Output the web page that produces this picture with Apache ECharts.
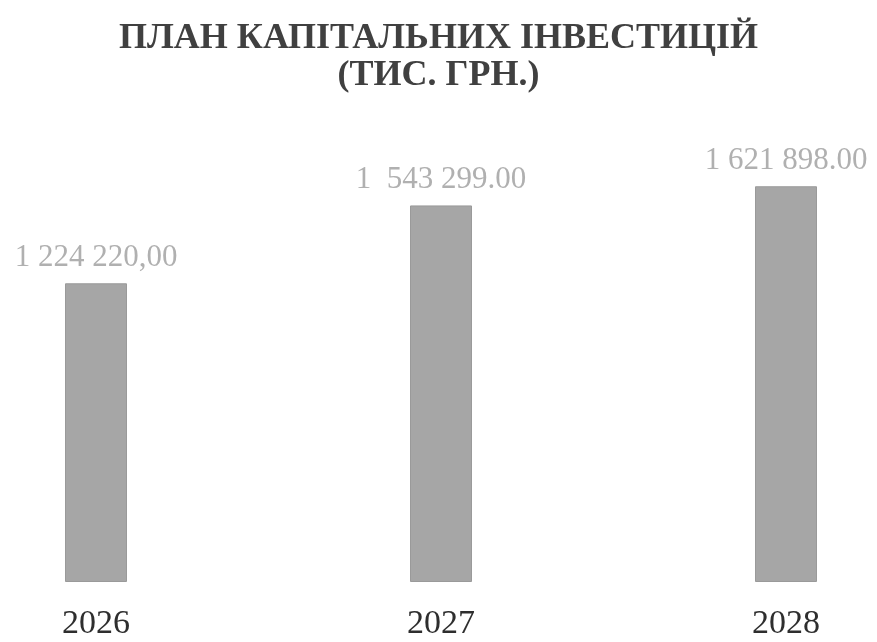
<!DOCTYPE html>
<html lang="uk">
<head>
    <meta charset="UTF-8">
    <title>План капітальних інвестицій</title>
    <script src="https://cdn.jsdelivr.net/npm/echarts/dist/echarts.min.js"></script>
    <style>
        html, body { margin: 0; padding: 0; background: #fff; }
    </style>
</head>
<body>
<div id="chart1" style="width: 877px;height:642px;"></div>
<script type="text/javascript">
    var years = ['2026', '2027', '2028'];
    var values = [1224220.00, 1543299.00, 1621898.00];
    var valueLabels = ['1 224 220,00', '1  543 299.00', '1 621 898.00'];

    var chart1 = echarts.init(document.getElementById('chart1'));
    var serif = '"Liberation Serif", "DejaVu Serif", serif';

    var option = {
        backgroundColor: '#fff',
        animation: false,
        title: {
            text: 'ПЛАН КАПІТАЛЬНИХ ІНВЕСТИЦІЙ\n(ТИС. ГРН.)',
            left: 'center',
            top: 15,
            textStyle: {
                fontFamily: serif,
                fontWeight: 'bold',
                fontSize: 36,
                lineHeight: 37,
                color: '#404040'
            }
        },
        grid: {
            left: 96,
            right: 91,
            top: 94,
            bottom: 60
        },
        xAxis: {
            type: 'category',
            data: years,
            boundaryGap: false,
            axisLine: { show: false },
            axisTick: { show: false },
            axisLabel: {
                margin: 25,
                fontFamily: serif,
                fontSize: 34,
                color: '#2e2e2e'
            }
        },
        yAxis: {
            type: 'value',
            min: 0,
            max: 2000000,
            show: false,
            splitLine: { show: false }
        },
        series: [{
            type: 'bar',
            data: values,
            barWidth: 62,
            clip: false,
            itemStyle: {
                color: '#a6a6a6',
                borderColor: '#9a9a9a',
                borderWidth: 1
            },
            label: {
                show: true,
                position: 'top',
                distance: 10,
                fontFamily: serif,
                fontSize: 31,
                color: '#b0b0b0',
                formatter: function (p) {
                    return valueLabels[p.dataIndex];
                }
            }
        }]
    };
    chart1.setOption(option);
</script>
</body>
</html>
